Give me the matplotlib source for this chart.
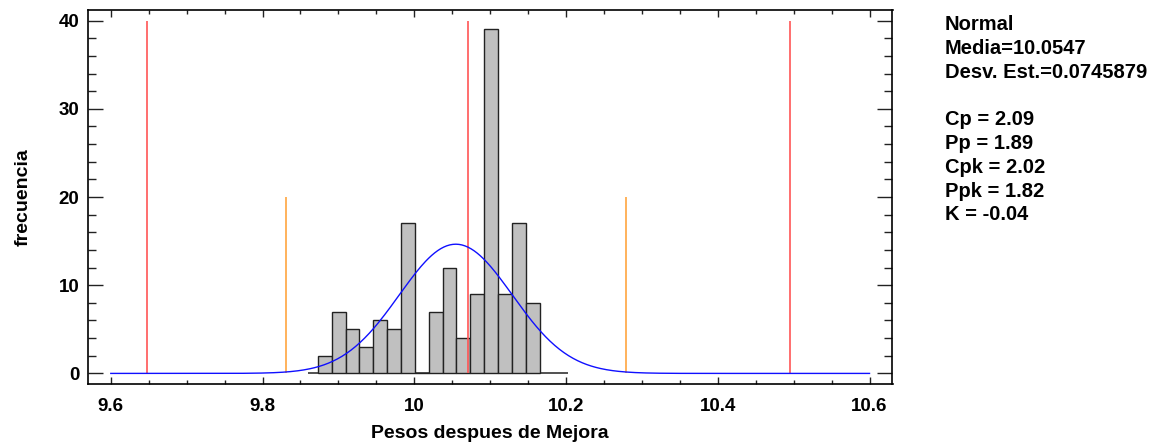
import numpy as np
import matplotlib.pyplot as plt

plt.rcParams['font.family'] = ['Liberation Sans', 'DejaVu Sans']
plt.rcParams['font.weight'] = 'bold'

# histogram classes
bin_start = 9.873
bin_width = 0.01826
counts = [2, 7, 5, 3, 6, 5, 17, 0, 7, 12, 4, 9, 39, 9, 17, 8]

# fitted normal
media = 10.0547
desv = 0.0745879

# specification limits and 3-sigma limits
spec_lines = [9.6475, 10.071, 10.4955]
sigma_lines = [9.8312, 10.2785]

stats_text = ("Normal\nMedia=10.0547\nDesv. Est.=0.0745879\n\n"
              "Cp = 2.09\nPp = 1.89\nCpk = 2.02\nPpk = 1.82\nK = -0.04")

fig = plt.figure(figsize=(11.68, 4.43), dpi=100)
ax = fig.add_axes([87.5 / 1168, 59 / 443, 805 / 1168, 374 / 443])

n = sum(counts)
edges = bin_start + bin_width * np.arange(len(counts) + 1)

# baseline of the histogram
ax.hlines(0, 9.86, 10.202, color='#333333', lw=1.2, zorder=1)

ax.bar(edges[:-1], counts, width=bin_width, align='edge',
       color='#C0C0C0', edgecolor='#222222', linewidth=1.0, zorder=2)

x = np.linspace(9.6, 10.6, 500)
y = n * bin_width * np.exp(-0.5 * ((x - media) / desv) ** 2) / (desv * np.sqrt(2 * np.pi))
ax.plot(x, y, color='#1010FF', lw=1.0, zorder=4)

ax.vlines(spec_lines, 0, 40, color='#FF5555', lw=1.2, zorder=3)
ax.vlines(sigma_lines, 0, 20, color='#FFA640', lw=1.2, zorder=3)

ax.set_xlim(9.5693, 10.6303)
ax.set_ylim(-1.2, 41.2)
ax.set_xticks([9.6, 9.8, 10.0, 10.2, 10.4, 10.6])
ax.set_xticklabels(['9.6', '9.8', '10', '10.2', '10.4', '10.6'])
ax.set_xticks(np.arange(9.6, 10.61, 0.05), minor=True)
ax.set_yticks([0, 10, 20, 30, 40])
ax.set_yticks(np.arange(0, 41, 2), minor=True)

ax.tick_params(axis='both', which='both', direction='in', top=True, right=True,
               labelsize=13.5, width=1.0, color='#222222')
ax.tick_params(axis='x', which='major', length=5, pad=10)
ax.tick_params(axis='x', which='minor', length=3)
ax.tick_params(axis='y', which='major', length=11, pad=6)
ax.tick_params(axis='y', which='minor', length=6)
for sp in ax.spines.values():
    sp.set_linewidth(1.2)

ax.set_xlabel('Pesos despues de Mejora', fontsize=14, fontweight='bold', labelpad=7)
ax.set_ylabel('frecuencia', fontsize=14, fontweight='bold', labelpad=19)

fig.text(945 / 1168, 1 - 15 / 443, stats_text, ha='left', va='top',
         fontsize=14.5, fontweight='bold', linespacing=1.32)

fig.savefig('out.png', dpi=100)
